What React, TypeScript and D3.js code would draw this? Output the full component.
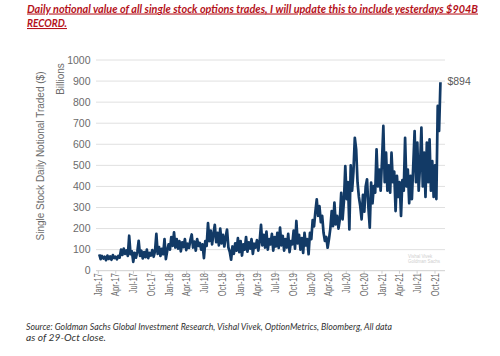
import React from "react";
import * as d3 from "d3";

// Weekly single-stock daily notional traded ($B)
const notional2017 = [78, 55, 70, 58, 66, 50, 72, 56, 68, 52, 74, 60, 66, 54, 70,
  62, 100, 75, 105, 80, 96, 70,
  166, 78, 92, 42, 85, 62, 90, 142,
  70, 95, 58, 88, 64, 100, 60, 84, 72, 98, 66,
  92, 175, 80, 112, 70, 104, 78, 150, 55, 95,
  125];
const notional2018 = [100, 160, 118, 182, 110, 150,
  105, 140, 92, 135, 112, 150, 98, 128, 108, 145,
  172, 110, 138, 95, 150, 118, 132, 100, 125, 60,
  140, 118, 226, 140, 190, 125, 175, 218, 135, 180,
  120, 200, 130, 170, 115, 160, 195, 110, 90, 52,
  115, 80, 130, 95, 155, 88];
const notional2019 = [140, 72, 125, 100, 160, 90, 135, 105, 150, 80, 128, 110, 145, 95, 140,
  218,
  120, 170, 110, 185, 100, 150, 125, 175, 95, 160, 115, 180, 108,
  205,
  120, 165, 95, 150, 110, 175, 88, 140, 125, 190, 105,
  236,
  130, 170, 100, 155, 85, 180, 120, 150,
  78, 180];
const notional2020 = [150, 240, 210, 280, 339,
  260, 307, 230, 260, 180, 141, 160, 109,
  150, 200, 283, 212, 323,
  220, 260, 200, 245, 370, 244, 330, 497, 340, 420, 196, 500, 380, 470,
  631, 576, 420, 350, 307,
  244, 360, 280, 400, 434, 300, 204,
  418, 320, 402, 370, 576, 400, 480, 380];
const notional2021 = [520, 687,
  420, 560, 380, 500, 370, 560, 420, 470,
  283, 450, 350, 420, 260, 430, 380, 631,
  400, 480, 320, 450, 340, 500, 663,
  420, 608, 380, 500, 679,
  400, 560, 350, 608, 420, 623, 380, 520,
  350, 500, 340, 782, 663, 894];

const yTicks = [0, 100, 200, 300, 400, 500, 600, 700, 800, 900, 1000];
const lastValueLabel = "$894";
const titleLines = [
  "Daily notional value of all single stock options trades, I will update this to include yesterdays $904B",
  "RECORD.",
];
const sourceLines = [
  "Source: Goldman Sachs Global Investment Research, Vishal Vivek, OptionMetrics, Bloomberg, All data",
  "as of 29-Oct close.",
];
const yTitle = "Single Stock Daily Notional Traded ($)";
const yUnit = "Billions";
const watermark = ["Vishal Vivek", "Goldman Sachs"];

export default function App() {
  const W = 500, H = 356;
  const values = [...notional2017, ...notional2018, ...notional2019, ...notional2020, ...notional2021];
  const start = new Date(2017, 0, 6);
  const data = values.map((v, i) => ({ date: d3.timeDay.offset(start, 7 * i), value: v }));

  const x = d3.scaleTime().domain([new Date(2017, 0, 1), new Date(2021, 9, 1)]).range([98.3, 435]);
  const y = d3.scaleLinear().domain([0, 1000]).range([270.7, 60]);
  const line = d3.line<{ date: Date; value: number }>().x(d => x(d.date)).y(d => y(d.value));
  const xTicks = d3.timeMonth.every(3)!.range(new Date(2017, 0, 1), new Date(2021, 9, 2));
  const fmt = d3.timeFormat("%b-%y");
  const gridX0 = 96, gridX1 = 445;
  const font = "'Liberation Sans', Arial, sans-serif";
  const last = data[data.length - 1];

  return (
    <div style={{ position: "absolute", left: 0, top: 0 }}>
      <svg width={W} height={H} style={{ display: "block", background: "#fff" }}>
        {/* Title */}
        <g fontFamily="Lato, 'Open Sans', sans-serif" fontWeight="bold" fontStyle="italic" fill="#b5121b" fontSize={10.5}>
          <text x={27} y={12.5} textLength={451} lengthAdjust="spacingAndGlyphs" textDecoration="underline">{titleLines[0]}</text>
          <text x={27} y={27} textLength={40} lengthAdjust="spacingAndGlyphs" textDecoration="underline">{titleLines[1]}</text>
        </g>

        {/* Gridlines */}
        {yTicks.map(t => (
          <line key={t} x1={gridX0} x2={gridX1} y1={y(t)} y2={y(t)} stroke={t === 0 ? "#cfcfcf" : "#e0e0e0"} strokeWidth={1} />
        ))}
        {xTicks.map((t, i) => (
          <line key={i} x1={x(t)} x2={x(t)} y1={y(0)} y2={y(0) + 3} stroke="#cfcfcf" strokeWidth={1} />
        ))}

        {/* Y tick labels */}
        <g fontFamily={font} fontSize={10.5} fill="#6b6b6b" textAnchor="end">
          {yTicks.map(t => (
            <text key={t} x={90.5} y={y(t)} dy="0.36em">{t}</text>
          ))}
        </g>

        {/* X tick labels */}
        <g fontFamily={font} fontSize={10.5} fill="#6b6b6b" textAnchor="end">
          {xTicks.map((t, i) => {
            const lab = fmt(t);
            const len = lab.startsWith("Jul") ? 20 : 23;
            return (
              <text key={i} transform={`translate(${x(t) + 3.6},${y(0) + 2.5}) rotate(-90)`}
                textLength={len} lengthAdjust="spacingAndGlyphs">{lab}</text>
            );
          })}
        </g>

        {/* Axis titles */}
        <text transform={`translate(43.5,156) rotate(-90)`} textAnchor="middle" fontFamily={font} fontSize={10} fill="#6b6b6b">{yTitle}</text>
        <text transform={`translate(63.5,79) rotate(-90)`} textAnchor="middle" fontFamily={font} fontSize={10} fill="#6b6b6b">{yUnit}</text>

        {/* Watermark */}
        <g fontFamily={font} fontSize={4.5} fill="#cfcfcf">
          <text x={408} y={258}>{watermark[0]}</text>
          <text x={408} y={263}>{watermark[1]}</text>
        </g>

        {/* Series */}
        <path d={line(data) || ""} fill="none" stroke="#123a66" strokeWidth={2.7} strokeLinejoin="round" />

        {/* Last value label */}
        <text x={x(last.date) + 7} y={y(last.value) + 3} fontFamily={font} fontSize={10.5} fill="#595959">{lastValueLabel}</text>

        {/* Source */}
        <g fontFamily="Lato, 'Open Sans', sans-serif" fontStyle="italic" fill="#333" fontSize={10}>
          <text x={26} y={330} textLength={366} lengthAdjust="spacingAndGlyphs">{sourceLines[0]}</text>
          <text x={26} y={341} textLength={80} lengthAdjust="spacingAndGlyphs">{sourceLines[1]}</text>
        </g>
      </svg>
    </div>
  );
}
